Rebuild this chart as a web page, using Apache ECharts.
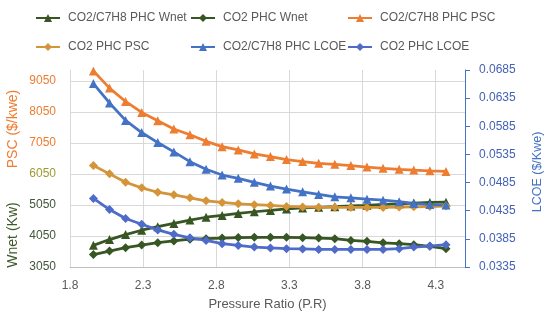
<!DOCTYPE html>
<html>
<head>
<meta charset="utf-8">
<script src="https://cdn.jsdelivr.net/npm/echarts@6/dist/echarts.min.js"></script>
<style>html,body{margin:0;padding:0;background:#fff}#c{width:550px;height:324px}</style>
</head>
<body>
<div id="c"></div>
<script>
// Pressure ratio (x values)
var pressureRatio = [1.96, 2.07, 2.18, 2.29, 2.40, 2.51, 2.62, 2.73, 2.84, 2.95, 3.06, 3.17, 3.28, 3.39, 3.50, 3.61, 3.72, 3.83, 3.94, 4.05, 4.15, 4.26, 4.37];
// Wnet (Kw) - left axis
var wnetC7H8 = [3748, 3934, 4095, 4236, 4349, 4455, 4561, 4654, 4712, 4776, 4831, 4873, 4921, 4953, 4975, 4995, 5017, 5040, 5065, 5088, 5110, 5130, 5140];
var wnetCO2 = [3449, 3564, 3674, 3757, 3834, 3892, 3947, 3963, 3982, 3998, 4005, 4005, 4005, 3995, 3982, 3963, 3908, 3876, 3828, 3802, 3770, 3715, 3641];
// PSC ($/kwe) - left axis
var pscC7H8 = [9370, 8817, 8386, 8032, 7765, 7499, 7315, 7100, 6930, 6824, 6695, 6608, 6512, 6448, 6393, 6360, 6320, 6270, 6230, 6200, 6175, 6150, 6130];
var pscCO2 = [6319, 6052, 5782, 5602, 5461, 5377, 5281, 5184, 5130, 5088, 5059, 5033, 5001, 4985, 4979, 4975, 4970, 4970, 4970, 4980, 4990, 5000, 5015];
// LCOE ($/Kwe) - right axis
var lcoeC7H8 = [0.06609, 0.06264, 0.05954, 0.05739, 0.05561, 0.05395, 0.05221, 0.05086, 0.04984, 0.04925, 0.04854, 0.04788, 0.04734, 0.04686, 0.04639, 0.04596, 0.04579, 0.04555, 0.04538, 0.04510, 0.04480, 0.04460, 0.04450];
var lcoeCO2 = [0.04568, 0.04371, 0.04211, 0.04109, 0.04009, 0.03930, 0.03868, 0.03823, 0.03764, 0.03734, 0.03704, 0.03689, 0.03675, 0.03671, 0.03663, 0.03663, 0.03663, 0.03663, 0.03663, 0.03675, 0.03704, 0.03721, 0.03746];

var seriesNames = ['CO2/C7H8 PHC Wnet', 'CO2 PHC Wnet', 'CO2/C7H8 PHC PSC', 'CO2 PHC PSC', 'CO2/C7H8 PHC LCOE', 'CO2 PHC LCOE'];

var FONT = 'Liberation Sans';
var GREEN = '#375623', ORANGE = '#ED7D31', GOLD = '#D4953A', BLUE = '#4472C4', BLUE2 = '#4F6BC9';

function pairs(ys) { return pressureRatio.map(function (x, i) { return [x, ys[i]]; }); }

function mkSeries(name, ys, color, symbol, yAxisIndex) {
  return {
    name: name, type: 'line', data: pairs(ys), yAxisIndex: yAxisIndex,
    symbol: symbol, symbolSize: 9, showAllSymbol: true, clip: false,
    lineStyle: { color: color, width: 2.75 },
    itemStyle: { color: color, borderWidth: 0 },
    emphasis: { disabled: true }, animation: false
  };
}

var legendPos = [[30, 7], [185, 7], [342, 7], [30, 36], [185, 36], [342, 36]];
var legends = seriesNames.map(function (n, i) {
  return {
    data: [n], left: legendPos[i][0], top: legendPos[i][1],
    itemWidth: 24, itemHeight: 10, selectedMode: false,
    textStyle: { fontFamily: FONT, fontSize: 12, color: '#595959', padding: [0, 0, 0, 3] }
  };
});

function leftLabelColor(v) {
  if (v >= 7000) return ORANGE;
  if (v >= 6000) return '#A09A30';
  return '#44573A';
}

var option = {
  backgroundColor: '#fff',
  animation: false,
  legend: legends,
  grid: { left: 70, right: 85, top: 70, bottom: 57, containLabel: false },
  xAxis: {
    type: 'value', min: 1.8, max: 4.5, interval: 0.5,
    name: 'Pressure Ratio (P.R)', nameLocation: 'middle', nameGap: 31,
    nameTextStyle: { fontFamily: FONT, fontSize: 13, color: '#595959' },
    axisLine: { show: true, lineStyle: { color: '#BFBFBF', width: 1 } },
    axisTick: { show: false },
    axisLabel: { margin: 13, fontFamily: FONT, fontSize: 12, color: '#595959', showMaxLabel: false,
      formatter: function (v) { return v.toFixed(1); } },
    splitLine: { show: true, showMaxLine: false, lineStyle: { color: '#D9D9D9', width: 1 } }
  },
  yAxis: [
    {
      type: 'value', min: 3050, max: 9400, interval: 1000, position: 'left',
      axisLine: { show: true, lineStyle: { color: '#D9D9D9' } },
      axisTick: { show: false },
      axisLabel: { margin: 14, fontFamily: FONT, fontSize: 12, showMaxLabel: false,
        color: function (v) { return leftLabelColor(Number(v)); },
        formatter: function (v) { return String(Math.round(v)); } },
      splitLine: { show: true, showMaxLine: false, showMinLine: false, lineStyle: { color: '#D9D9D9', width: 1 } }
    },
    {
      type: 'value', min: 0.0335, max: 0.0685, interval: 0.005, position: 'right',
      axisLine: { show: true, lineStyle: { color: BLUE, width: 1 } },
      axisTick: { show: true, inside: false, length: 5, lineStyle: { color: BLUE } },
      axisLabel: { margin: 14, fontFamily: FONT, fontSize: 12, color: '#4462B4',
        formatter: function (v) { return v.toFixed(4); } },
      splitLine: { show: false }
    }
  ],
  graphic: [
    { type: 'text', x: 13, y: 129, rotation: Math.PI / 2,
      style: { text: 'PSC ($/kwe)', fill: ORANGE, font: '14px "' + FONT + '"', align: 'center', verticalAlign: 'middle' } },
    { type: 'text', x: 13, y: 235, rotation: Math.PI / 2,
      style: { text: 'Wnet (Kw)', fill: '#3D5A2B', font: '14px "' + FONT + '"', align: 'center', verticalAlign: 'middle' } },
    { type: 'text', x: 538, y: 172, rotation: Math.PI / 2,
      style: { text: 'LCOE ($/Kwe)', fill: BLUE, font: '12.5px "' + FONT + '"', align: 'center', verticalAlign: 'middle' } }
  ],
  series: [
    mkSeries(seriesNames[0], wnetC7H8, GREEN, 'triangle', 0),
    mkSeries(seriesNames[1], wnetCO2, GREEN, 'diamond', 0),
    mkSeries(seriesNames[2], pscC7H8, ORANGE, 'triangle', 0),
    mkSeries(seriesNames[3], pscCO2, GOLD, 'diamond', 0),
    mkSeries(seriesNames[4], lcoeC7H8, BLUE, 'triangle', 1),
    mkSeries(seriesNames[5], lcoeCO2, BLUE2, 'diamond', 1)
  ]
};
var chart = echarts.init(document.getElementById('c'), null, { renderer: 'canvas' });
chart.setOption(option);
</script>
</body>
</html>
